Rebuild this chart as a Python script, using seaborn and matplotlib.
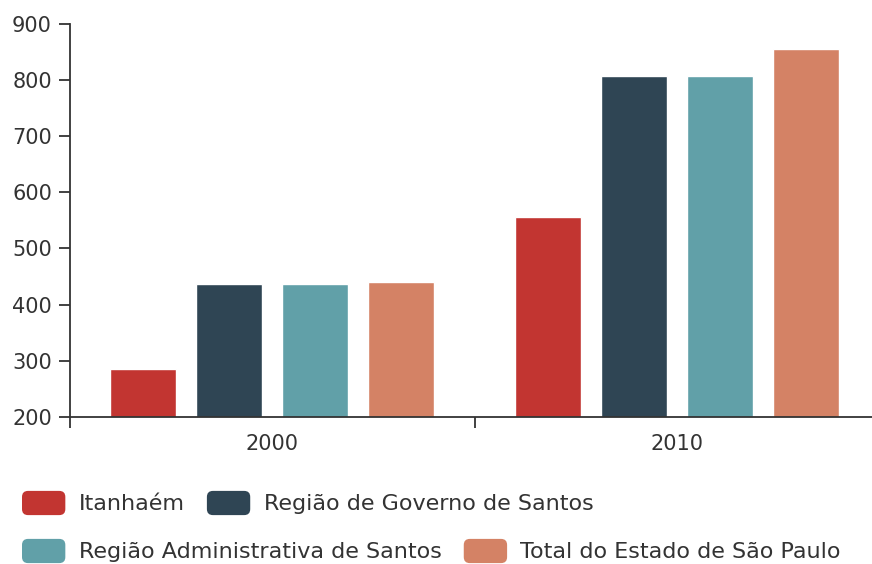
import pandas as pd
import matplotlib
matplotlib.use("Agg")
import matplotlib.pyplot as plt
import seaborn as sns
from matplotlib.legend_handler import HandlerPatch
from matplotlib.patches import FancyBboxPatch

years = ["2000", "2010"]
regions = ["Itanhaém", "Região de Governo de Santos",
           "Região Administrativa de Santos", "Total do Estado de São Paulo"]
itanhaem = [285, 556]
governo_santos = [436, 807]
admin_santos = [436, 807]
estado_sp = [440, 854]
colors = ["#c23531", "#2f4554", "#61a0a8", "#d48265"]

df = pd.DataFrame({
    "ano": years * 4,
    "regiao": [r for r in regions for _ in years],
    "valor": itanhaem + governo_santos + admin_santos + estado_sp,
})

sns.set_style("white")
plt.rcParams["font.family"] = ["DejaVu Sans"]

fig = plt.figure(figsize=(8.72, 5.64), dpi=100)
ax = fig.add_axes([70 / 872, 1 - 417 / 564, 809 / 872, 393.5 / 564])

sns.barplot(data=df, x="ano", y="valor", hue="regiao", hue_order=regions,
            palette=colors, width=0.85, gap=0.23, ax=ax, saturation=1)

handles, labels = ax.get_legend_handles_labels()
ax.get_legend().remove()

ax.set_ylim(200, 900)
ax.set_xlim(-0.5, 1.5)
ax.set_yticks(range(200, 901, 100))
ax.set_xticks([-0.5, 0.5, 1.5])
ax.set_xticklabels([])
ax.set_xticks([0, 1], minor=True)
ax.set_xticklabels(years, minor=True)
ax.set_xlabel("")
ax.set_ylabel("")

sns.despine(ax=ax)
for s in ["left", "bottom"]:
    ax.spines[s].set_color("#333333")
    ax.spines[s].set_linewidth(1.3)
ax.tick_params(axis="x", which="major", length=8, width=1.3, color="#333333",
               direction="out", bottom=True)
ax.tick_params(axis="x", which="minor", length=0, pad=12, labelsize=15,
               labelcolor="#333333")
ax.tick_params(axis="y", length=8, width=1.3, color="#333333", direction="out",
               left=True, pad=5, labelsize=15, labelcolor="#333333")


class RoundHandler(HandlerPatch):
    def create_artists(self, legend, orig_handle, xdescent, ydescent,
                       width, height, fontsize, trans):
        p = FancyBboxPatch((-xdescent, -ydescent), width, height,
                           boxstyle="round,pad=0,rounding_size=%f" % (height * 0.25),
                           facecolor=orig_handle.get_facecolor(),
                           edgecolor="none", transform=trans)
        return [p]


leg_kw = dict(loc="center left", ncol=2, frameon=False, fontsize=16,
              handlelength=1.95, handleheight=1.3, handletextpad=0.6,
              columnspacing=1.0, borderpad=0, borderaxespad=0,
              labelcolor="#333333",
              handler_map={type(handles[0]): RoundHandler()})

fig.legend(handles[:2], labels[:2],
           bbox_to_anchor=(22 / 872, 1 - 503 / 564), **leg_kw)
fig.legend(handles[2:], labels[2:],
           bbox_to_anchor=(22 / 872, 1 - 551 / 564), **leg_kw)

fig.savefig("out.png", dpi=100)
